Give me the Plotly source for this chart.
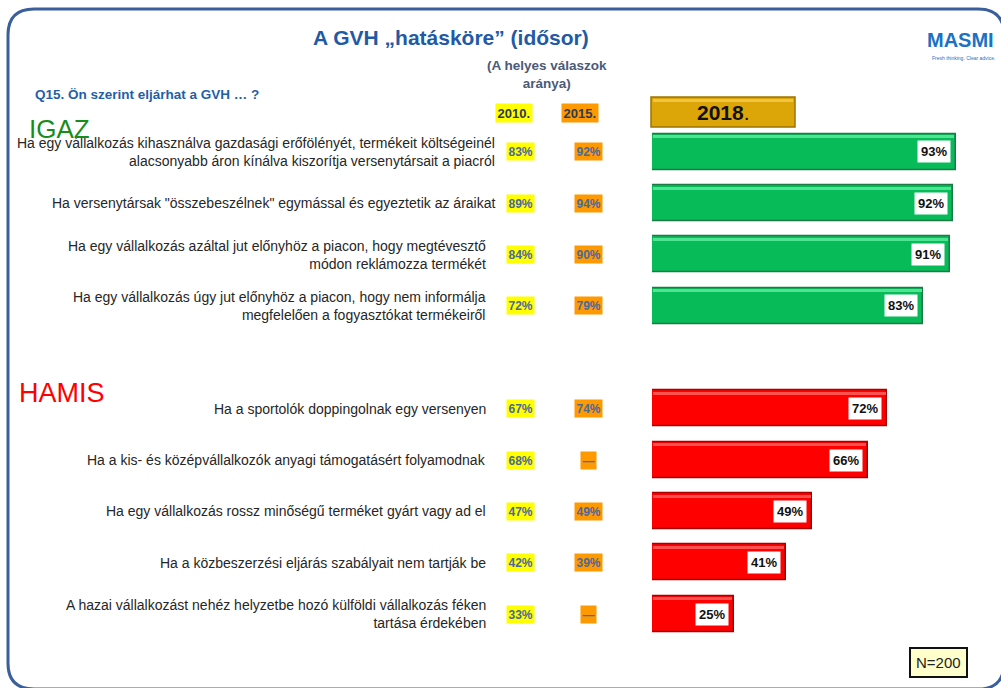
import plotly.graph_objects as go

W, H = 1001, 688

# ---- data ----
igaz_labels = [
    "Ha egy vállalkozás kihasználva gazdasági erőfölényét, termékeit költségeinél<br>alacsonyabb áron kínálva kiszorítja versenytársait a piacról",
    "Ha versenytársak \"összebeszélnek\" egymással és egyeztetik az áraikat",
    "Ha egy vállalkozás azáltal jut előnyhöz a piacon, hogy megtévesztő<br>módon reklámozza termékét",
    "Ha egy vállalkozás úgy jut előnyhöz a piacon, hogy nem informálja<br>megfelelően a fogyasztókat termékeiről",
]
igaz_2010 = ["83%", "89%", "84%", "72%"]
igaz_2015 = ["92%", "94%", "90%", "79%"]
igaz_2018 = [93, 92, 91, 83]

hamis_labels = [
    "Ha a sportolók doppingolnak egy versenyen",
    "Ha a kis- és középvállalkozók anyagi támogatásért folyamodnak",
    "Ha egy vállalkozás rossz minőségű terméket gyárt vagy ad el",
    "Ha a közbeszerzési eljárás szabályait nem tartják be",
    "A hazai vállalkozást nehéz helyzetbe hozó külföldi vállalkozás féken<br>tartása érdekében",
]
hamis_2010 = ["67%", "68%", "47%", "42%", "33%"]
hamis_2015 = ["74%", "—", "49%", "39%", "—"]
hamis_2018 = [72, 66, 49, 41, 25]

igaz_pos = [0, 1, 2, 3]
hamis_pos = [5, 6, 7, 8, 9]

# label right edges (style, in pixels)
label_right = [497, 497, 488, 488, 488, 488, 488, 488, 488]


def px(x):
    return x / W


def py(y):
    return 1 - y / H


fig = go.Figure()

fig.add_trace(go.Bar(
    y=igaz_pos, x=igaz_2018, orientation="h", width=0.7,
    marker=dict(color="#06BB58", line=dict(color="#1E7A45", width=1.5)),
    hoverinfo="skip", showlegend=False,
))
fig.add_trace(go.Bar(
    y=hamis_pos, x=hamis_2018, orientation="h", width=0.7,
    marker=dict(color="#FF0000", line=dict(color="#A80000", width=1.5)),
    hoverinfo="skip", showlegend=False,
))
# bevel highlight strips along the top of each bar
fig.add_trace(go.Bar(
    y=igaz_pos, x=[v - 0.8 for v in igaz_2018], base=0.3, orientation="h",
    width=0.06, offset=-0.32,
    marker=dict(color="#4DE592", line=dict(width=0)),
    hoverinfo="skip", showlegend=False,
))
fig.add_trace(go.Bar(
    y=hamis_pos, x=[v - 0.8 for v in hamis_2018], base=0.3, orientation="h",
    width=0.06, offset=-0.32,
    marker=dict(color="#FF5050", line=dict(width=0)),
    hoverinfo="skip", showlegend=False,
))

annotations = []

# bar value labels
for pos, v in list(zip(igaz_pos, igaz_2018)) + list(zip(hamis_pos, hamis_2018)):
    annotations.append(dict(
        x=v, y=pos, xref="x", yref="y", xanchor="right", yanchor="middle",
        xshift=-5, text=f"<b>{v}%</b>", showarrow=False,
        font=dict(family="Arial", size=13, color="#111111"),
        bgcolor="white", borderpad=3,
    ))

# row labels and historic values
rows = list(zip(igaz_pos, igaz_labels, igaz_2010, igaz_2015)) + \
    list(zip(hamis_pos, hamis_labels, hamis_2010, hamis_2015))
for (pos, lab, a, b), xr in zip(rows, label_right):
    annotations.append(dict(
        x=px(xr), y=pos, xref="paper", yref="y", xanchor="right", yanchor="middle",
        text=lab, showarrow=False, align="right",
        font=dict(family="Arial", size=14, color="#262626"),
    ))
    annotations.append(dict(
        x=px(520), y=pos, xref="paper", yref="y", xanchor="center", yanchor="middle",
        text=f"<b>{a}</b>", showarrow=False, bgcolor="#FFFF00", borderpad=1.5,
        font=dict(family="Arial", size=12, color="#4A6A9A"),
    ))
    annotations.append(dict(
        x=px(588), y=pos, xref="paper", yref="y", xanchor="center", yanchor="middle",
        text=f"<b>{b}</b>", showarrow=False, bgcolor="#FF9900", borderpad=1.5,
        font=dict(family="Arial", size=12, color="#4A6A9A"),
    ))

# headers and titles
annotations += [
    dict(x=px(451), y=py(38), xref="paper", yref="paper", text="<b>A GVH „hatásköre” (idősor)</b>",
         showarrow=False, xanchor="center", yanchor="middle",
         font=dict(family="Arial", size=21, color="#1F5AA6")),
    dict(x=px(547), y=py(75), xref="paper", yref="paper", text="<b>(A helyes válaszok<br>aránya)</b>",
         showarrow=False, xanchor="center", yanchor="middle", align="center",
         font=dict(family="Arial", size=13.5, color="#4B5A78")),
    dict(x=px(33), y=py(94), xref="paper", yref="paper", text="<b>Q15. Ön szerint eljárhat a GVH … ?</b>",
         showarrow=False, xanchor="left", yanchor="middle",
         font=dict(family="Arial", size=13.5, color="#1F5FA8")),
    dict(x=px(514), y=py(113), xref="paper", yref="paper", text="<b>2010.</b>",
         showarrow=False, xanchor="center", yanchor="middle", bgcolor="#FFFF00", borderpad=1.5,
         font=dict(family="Arial", size=13, color="#2E3A55")),
    dict(x=px(580), y=py(113), xref="paper", yref="paper", text="<b>2015.</b>",
         showarrow=False, xanchor="center", yanchor="middle", bgcolor="#FF9900", borderpad=1.5,
         font=dict(family="Arial", size=13, color="#2E3A55")),
    dict(x=px(723), y=py(112), xref="paper", yref="paper", text="<b>2018</b>.",
         showarrow=False, xanchor="center", yanchor="middle",
         font=dict(family="Arial", size=21, color="#111111")),
    dict(x=px(27), y=py(129), xref="paper", yref="paper", text="IGAZ",
         showarrow=False, xanchor="left", yanchor="middle",
         font=dict(family="Arial", size=26, color="#1A8C1A")),
    dict(x=px(17), y=py(393), xref="paper", yref="paper", text="HAMIS",
         showarrow=False, xanchor="left", yanchor="middle",
         font=dict(family="Arial", size=27, color="#FF0000")),
    dict(x=px(938), y=py(662), xref="paper", yref="paper", text="N=200",
         showarrow=False, xanchor="center", yanchor="middle",
         bgcolor="#FFFFCC", bordercolor="#111111", borderwidth=2, borderpad=5,
         font=dict(family="Arial", size=15, color="#222222")),
    dict(x=px(996), y=py(40), xref="paper", yref="paper", text="<b>MASMI</b>",
         showarrow=False, xanchor="right", yanchor="middle",
         font=dict(family="Arial", size=20, color="#1A72C4")),
    dict(x=px(997), y=py(58), xref="paper", yref="paper", text="Fresh thinking. Clear advice.",
         showarrow=False, xanchor="right", yanchor="middle",
         font=dict(family="Arial", size=5, color="#1A72C4")),
]

# rounded frame (right side runs off the page as in the original slide)
r = 26
x0, y0, x1, y1 = 8, 9, 1004, 689
def P(x, y):
    return f"{px(x):.5f},{py(y):.5f}"
frame = (f"M {P(x0, y0 + r)} Q {P(x0, y0)} {P(x0 + r, y0)} L {P(x1 - r, y0)} "
         f"Q {P(x1, y0)} {P(x1, y0 + r)} L {P(x1, y1 - r)} Q {P(x1, y1)} {P(x1 - r, y1)} "
         f"L {P(x0 + r, y1)} Q {P(x0, y1)} {P(x0, y1 - r)} Z")

shapes = [
    dict(type="path", xref="paper", yref="paper", path=frame,
         line=dict(color="#3A5F9A", width=3), fillcolor="rgba(0,0,0,0)", layer="below"),
    dict(type="rect", xref="paper", yref="paper", x0=px(651), x1=px(795), y0=py(127), y1=py(97),
         fillcolor="#DCA508", line=dict(color="#9C7400", width=1.5), layer="below"),
    dict(type="rect", xref="paper", yref="paper", x0=px(653), x1=px(793), y0=py(102), y1=py(99),
         fillcolor="#F0C440", line=dict(width=0), layer="below"),
]

fig.update_layout(
    width=W, height=H,
    margin=dict(l=0, r=0, t=0, b=0),
    paper_bgcolor="white", plot_bgcolor="white",
    xaxis=dict(range=[0, 100], domain=[px(652), px(979)], visible=False, fixedrange=True),
    yaxis=dict(range=[9.5, -0.5], domain=[py(639.7), py(126.3)], visible=False, fixedrange=True),
    annotations=annotations, shapes=shapes, bargap=0, barmode="overlay",
)

fig.write_html("out.html", config={"displayModeBar": False})

# remove the default page margin so the figure sits at the window's top-left corner
with open("out.html", encoding="utf-8") as f:
    html = f.read()
html = html.replace("<body>", '<body style="margin:0;padding:0;overflow:hidden">', 1)
with open("out.html", "w", encoding="utf-8") as f:
    f.write(html)
